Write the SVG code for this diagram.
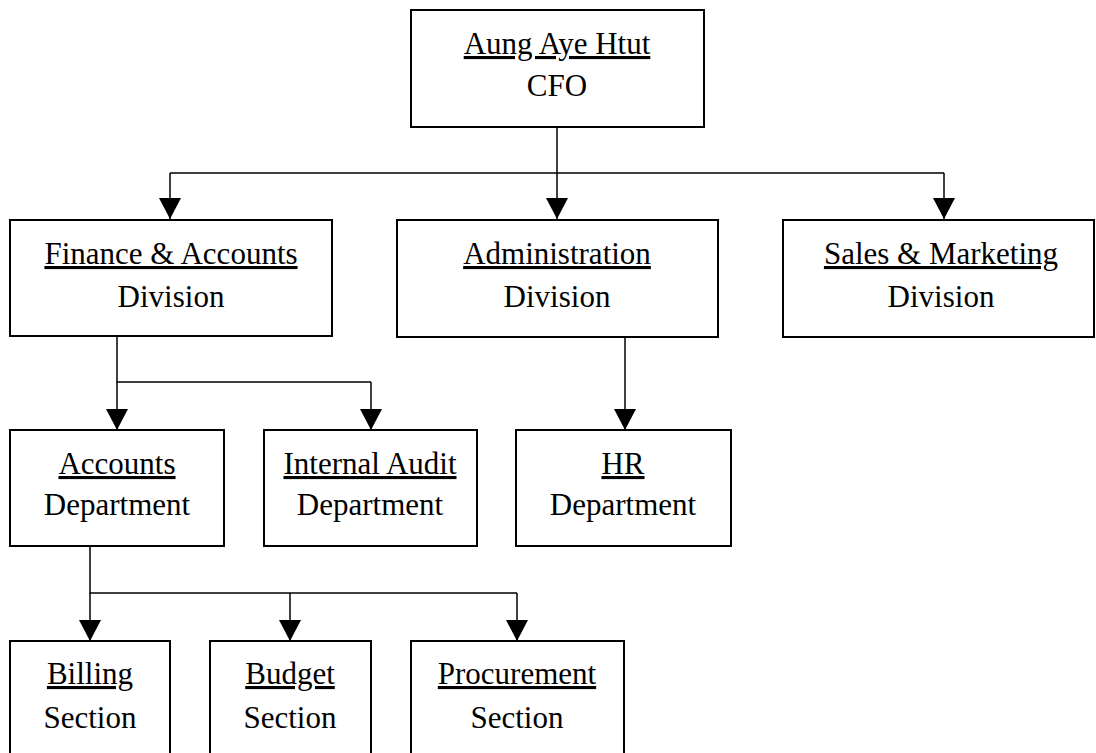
<svg xmlns="http://www.w3.org/2000/svg" width="1096" height="753" viewBox="0 0 1096 753">
<style>
.box{fill:#fff;stroke:#000;stroke-width:2}
.t{font-family:"Liberation Serif","Times New Roman",serif;font-size:31px;fill:#000;text-anchor:middle}
.u{text-decoration:underline}
.c{fill:none;stroke:#000;stroke-width:1.5}
</style>
<defs>
<marker id="ah" markerUnits="userSpaceOnUse" markerWidth="22" markerHeight="22" refX="21" refY="11" orient="auto">
<path d="M0,0 L21,11 L0,22 z" fill="#000"/>
</marker>
</defs>
<rect width="1096" height="753" fill="#fff"/>
<g id="connectors">
<path class="c" d="M557,127 V173 M170,173 H944"/>
<path class="c" d="M170,173 V219" marker-end="url(#ah)"/>
<path class="c" d="M557,173 V219" marker-end="url(#ah)"/>
<path class="c" d="M944,173 V219" marker-end="url(#ah)"/>
<path class="c" d="M117,336 V382 H371"/>
<path class="c" d="M117,382 V430" marker-end="url(#ah)"/>
<path class="c" d="M371,382 V430" marker-end="url(#ah)"/>
<path class="c" d="M625,337 V430" marker-end="url(#ah)"/>
<path class="c" d="M90,546 V593 H517"/>
<path class="c" d="M90,593 V641" marker-end="url(#ah)"/>
<path class="c" d="M290,593 V641" marker-end="url(#ah)"/>
<path class="c" d="M517,593 V641" marker-end="url(#ah)"/>
</g>
<g id="cfo">
<rect class="box" x="411" y="10" width="293" height="117"/>
<text class="t u" x="557" y="54">Aung Aye Htut</text>
<text class="t" x="557" y="96">CFO</text>
</g>
<g id="finance">
<rect class="box" x="10" y="220" width="322" height="116"/>
<text class="t u" x="171" y="264">Finance &amp; Accounts</text>
<text class="t" x="171" y="307">Division</text>
</g>
<g id="admin">
<rect class="box" x="397" y="220" width="321" height="117"/>
<text class="t u" x="557" y="264">Administration</text>
<text class="t" x="557" y="307">Division</text>
</g>
<g id="sales">
<rect class="box" x="783" y="220" width="311" height="117"/>
<text class="t u" x="941" y="264">Sales &amp; Marketing</text>
<text class="t" x="941" y="307">Division</text>
</g>
<g id="accounts">
<rect class="box" x="10" y="430" width="214" height="116"/>
<text class="t u" x="117" y="474">Accounts</text>
<text class="t" x="117" y="515">Department</text>
</g>
<g id="audit">
<rect class="box" x="264" y="430" width="213" height="116"/>
<text class="t u" x="370" y="474">Internal Audit</text>
<text class="t" x="370" y="515">Department</text>
</g>
<g id="hr">
<rect class="box" x="516" y="430" width="215" height="116"/>
<text class="t u" x="623" y="474">HR</text>
<text class="t" x="623" y="515">Department</text>
</g>
<g id="billing">
<rect class="box" x="10" y="641" width="160" height="130"/>
<text class="t u" x="90" y="684">Billing</text>
<text class="t" x="90" y="728">Section</text>
</g>
<g id="budget">
<rect class="box" x="210" y="641" width="161" height="130"/>
<text class="t u" x="290" y="684">Budget</text>
<text class="t" x="290" y="728">Section</text>
</g>
<g id="procurement">
<rect class="box" x="411" y="641" width="213" height="130"/>
<text class="t u" x="517" y="684">Procurement</text>
<text class="t" x="517" y="728">Section</text>
</g>
</svg>
